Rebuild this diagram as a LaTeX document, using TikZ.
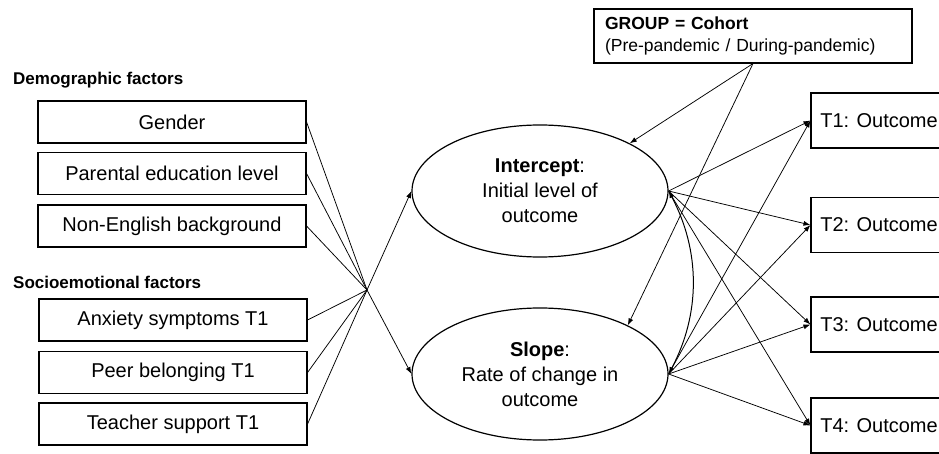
\documentclass[tikz,border=0pt]{standalone}
\usepackage{fontspec}
\setmainfont{Liberation Sans}
\usetikzlibrary{arrows.meta,shapes.geometric}
\begin{document}
\begin{tikzpicture}[x=1pt,y=-1pt,
  box/.style={draw, line width=1.1pt, minimum width=268pt, minimum height=42pt, inner sep=0pt, font=\fontsize{20}{24}\selectfont},
  obox/.style={draw, line width=1.1pt, minimum width=136pt, minimum height=55pt, inner sep=0pt, font=\fontsize{20}{24}\selectfont},
  lat/.style={draw, ellipse, line width=1.2pt, minimum width=256pt, minimum height=132pt, inner sep=0pt, align=center, font=\fontsize{20}{25}\selectfont},
  head/.style={anchor=west, inner sep=0pt, font=\fontsize{17}{20}\selectfont\bfseries},
  conn/.style={line width=0.75pt},
  arr/.style={conn, -{Latex[length=7pt,width=5pt]}},
  darr/.style={line width=1pt, {Latex[length=7pt,width=5pt]}-{Latex[length=7pt,width=5pt]}},
]
\useasboundingbox (0,0) rectangle (939,454);

% headings
\node[head] (hdemo) at (13,80) {Demographic factors};
\node[head] (hsoc) at (13,282) {Socioemotional factors};

% predictor boxes
\node[box] (gender) at (172,122) {Gender};
\node[box] (parent) at (172,173.5) {Parental education level};
\node[box] (noneng) at (172,226) {Non-English background};
\node[box] (anx) at (173,320) {Anxiety symptoms T1};
\node[box] (peer) at (173,372.5) {Peer belonging T1};
\node[box] (teach) at (173,424) {Teacher support T1};

% group box
\node[draw, line width=1.1pt, minimum width=318pt, minimum height=54pt, inner xsep=11pt, inner ysep=0pt,
      text width=296pt, align=left, font=\fontsize{17.5}{22}\selectfont] (group) at (753,36)
  {\textbf{GROUP = Cohort}\\(Pre-pandemic / During-pandemic)};

% latent factors
\node[lat] (icpt) at (540,191) {\textbf{Intercept}:\\Initial level of\\outcome};
\node[lat] (slope) at (540,374) {\textbf{Slope}:\\Rate of change in\\outcome};

% outcome boxes
\node[obox] (t1) at (879,120.5) {T1: Outcome};
\node[obox] (t2) at (879,225) {T2: Outcome};
\node[obox] (t3) at (879,324.5) {T3: Outcome};
\node[obox] (t4) at (879,425.5) {T4: Outcome};

% hub
\coordinate (hub) at (367,290);
\foreach \n in {gender,parent,noneng,anx,peer,teach}
  \draw[conn] (\n.east) -- (hub);
\draw[arr] (hub) -- (icpt.west);
\draw[arr] (hub) -- (slope.west);

% group effects
\draw[arr] (group.south) -- (icpt.28);
\draw[arr] (group.south) -- (slope.29);

% loadings
\foreach \t in {t1,t2,t3,t4} {
  \draw[arr] (icpt.east) -- (\t.west);
  \draw[arr] (slope.east) -- (\t.west);
}

% covariance
\draw[darr] (icpt.east) .. controls +(32,60) and +(32,-60) .. (slope.east);
\end{tikzpicture}
\end{document}
